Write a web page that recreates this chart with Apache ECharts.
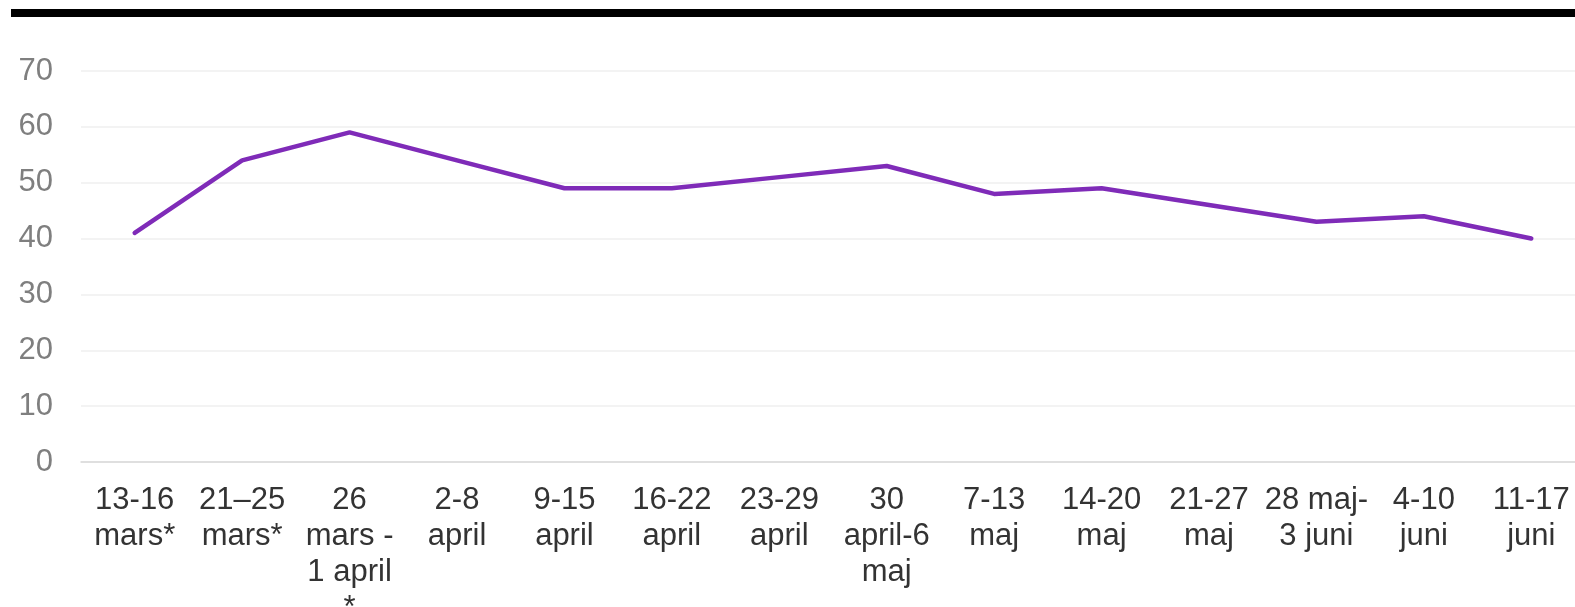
<!DOCTYPE html>
<html>
<head>
<meta charset="utf-8">
<script src="https://cdn.jsdelivr.net/npm/echarts@6/dist/echarts.min.js"></script>
<style>
  html, body { margin: 0; padding: 0; background: #fff; }
  #chart { width: 1575px; height: 607px; }
</style>
</head>
<body>
<div id="chart"></div>
<script>
const weeks = [
  '13-16\nmars*', '21–25\nmars*', '26\nmars -\n1 april\n*', '2-8\napril',
  '9-15\napril', '16-22\napril', '23-29\napril', '30\napril-6\nmaj',
  '7-13\nmaj', '14-20\nmaj', '21-27\nmaj', '28 maj-\n3 juni',
  '4-10\njuni', '11-17\njuni'
];
const values = [41, 54, 59, 54, 49, 49, 51, 53, 48, 49, 46, 43, 44, 40];
const yTicks = {min: 0, max: 70, interval: 10};

const chart = echarts.init(document.getElementById('chart'));
chart.setOption({
  animation: false,
  textStyle: {fontFamily: '"Liberation Sans", Arial, sans-serif'},
  graphic: [{
    type: 'rect',
    shape: {x: 11, y: 9, width: 1570, height: 8},
    style: {fill: '#000'}
  }],
  grid: {left: 81, right: -10, top: 71, bottom: 145, outerBoundsMode: 'none', containLabel: false},
  xAxis: {
    type: 'category',
    data: weeks,
    axisTick: {show: false},
    axisLine: {lineStyle: {color: '#d9d9d9', width: 1.5}},
    axisLabel: {
      color: '#333',
      fontSize: 31,
      lineHeight: 36,
      margin: 20,
      interval: 0
    }
  },
  yAxis: {
    type: 'value',
    min: yTicks.min,
    max: yTicks.max,
    interval: yTicks.interval,
    axisLine: {show: false},
    axisTick: {show: false},
    axisLabel: {color: '#7f7f7f', fontSize: 31, margin: 28},
    splitLine: {lineStyle: {color: '#efefef', width: 1.5}}
  },
  series: [{
    type: 'line',
    data: values,
    symbol: 'none',
    lineStyle: {color: '#7f2bb8', width: 4.5, cap: 'round', join: 'round'}
  }]
});
</script>
</body>
</html>
